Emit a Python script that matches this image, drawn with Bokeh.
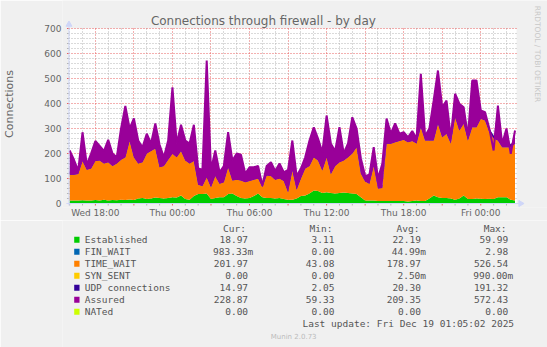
import math
from bokeh.plotting import figure
from bokeh.models import Range1d, FixedTicker, BoxAnnotation
from bokeh.layouts import column
from bokeh.embed import file_html
from bokeh.resources import INLINE
from bokeh.core.properties import value

# ---------------- data ----------------
title_text = "Connections through firewall - by day"
y_label = "Connections"

start_hour = 16.0        # hours counted from Wed 00:00 (first sample Wed 16:00)
step_hours = 1.0 / 3.0   # one sample every 20 minutes

established = [12, 12, 12, 13, 12, 12, 14, 12, 15, 12,
               14, 13, 15, 14, 16, 14, 20, 22, 18, 20,
               24, 22, 20, 22, 25, 24, 32, 18, 15, 30,
               38, 38, 40, 18, 22, 25, 25, 38, 40, 30,
               22, 20, 22, 30, 40, 25, 22, 22, 20, 22,
               18, 15, 15, 20, 30, 32, 40, 52, 50, 42,
               45, 42, 40, 42, 44, 42, 40, 38, 25, 12,
               12, 12, 10, 10, 10, 10, 10, 10, 10, 8,
               10, 12, 10, 10, 20, 32, 25, 22, 22, 20,
               15, 20, 32, 18, 18, 20, 19, 18, 19, 18,
               25, 25, 25, 15, 12]

time_wait = [103, 103, 106, 157, 123, 128, 156, 160, 145, 153,
             136, 147, 160, 171, 234, 171, 140, 143, 182, 190,
             196, 123, 130, 153, 174, 161, 178, 154, 145, 140,
             37, 32, 65, 47, 88, 54, 60, 107, 52, 65,
             70, 65, 68, 65, 60, 40, 90, 88, 75, 78,
             72, 30, 117, 35, 70, 108, 110, 133, 122, 90,
             140, 76, 110, 123, 128, 143, 160, 187, 95, 76,
             67, 138, 50, 52, 229, 229, 235, 240, 245, 237,
             240, 228, 295, 242, 232, 220, 294, 243, 257, 220,
             330, 272, 287, 234, 287, 285, 320, 314, 266, 242,
             227, 200, 200, 210, 227]

udp = [15, 12, 10, 15, 12, 15, 18, 20, 15, 22,
       15, 12, 20, 25, 18, 22, 15, 15, 20, 18,
       22, 15, 12, 20, 30, 18, 25, 20, 18, 25,
       20, 25, 30, 15, 20, 12, 15, 25, 20, 22,
       18, 12, 15, 15, 12, 5, 12, 15, 12, 15,
       10, 12, 20, 10, 12, 15, 20, 25, 20, 15,
       25, 18, 15, 22, 12, 15, 25, 20, 15, 8,
       10, 18, 10, 12, 25, 15, 22, 18, 20, 15,
       20, 15, 40, 12, 18, 30, 45, 25, 30, 15,
       30, 25, 25, 15, 35, 35, 20, 20, 15, 12,
       25, 12, 18, 12, 15]

assured = [212, 175, 132, 285, 155, 200, 250, 230, 210, 255,
           200, 185, 300, 390, 300, 340, 252, 225, 279, 240,
           320, 235, 185, 252, 465, 240, 315, 252, 240, 315,
           140, 135, 572, 135, 212, 125, 150, 285, 172, 200,
           195, 120, 145, 145, 150, 72, 150, 165, 130, 160,
           125, 135, 252, 110, 140, 185, 252, 305, 260, 205,
           352, 239, 210, 305, 200, 240, 345, 300, 180, 110,
           115, 225, 100, 159, 340, 280, 320, 279, 285, 265,
           290, 260, 519, 270, 300, 412, 532, 385, 412, 265,
           439, 399, 385, 270, 492, 492, 372, 365, 300, 212,
           392, 239, 300, 199, 292]

x_label_hours = [18, 24, 30, 36, 42, 48]
x_label_texts = ["Wed 18:00", "Thu 00:00", "Thu 06:00", "Thu 12:00", "Thu 18:00", "Fri 00:00"]
x_major_hours = [18, 21, 24, 27, 30, 33, 36, 39, 42, 45, 48]
x_minor_hours = [16, 17, 19, 20, 22, 23, 25, 26, 28, 29, 31, 32, 34, 35, 37, 38,
                 40, 41, 43, 44, 46, 47, 49, 50]
y_major = [0, 100, 200, 300, 400, 500, 600, 700]
y_minor = [v for v in range(20, 700, 20) if v % 100 != 0]

series_names = ["Established", "FIN_WAIT", "TIME_WAIT", "SYN_SENT",
                "UDP connections", "Assured", "NATed"]
series_colors = ["#00CC00", "#0066B3", "#FF8000", "#FFCC00",
                 "#330099", "#990099", "#CCFF00"]
cur_vals = ["18.97", "983.33m", "201.97", "0.00", "14.97", "228.87", "0.00"]
min_vals = ["3.11", "0.00", "43.08", "0.00", "2.05", "59.33", "0.00"]
avg_vals = ["22.19", "44.99m", "178.97", "2.50m", "20.30", "209.35", "0.00"]
max_vals = ["59.99", "2.98", "526.54", "990.00m", "191.32", "572.43", "0.00"]
last_update = "Last update: Fri Dec 19 01:05:02 2025"
munin_version = "Munin 2.0.73"
rrd_credit = "RRDTOOL / TOBI OETIKER"

# ---------------- derived stacks ----------------
n = len(established)
hours = [start_hour + i * step_hours for i in range(n)]
top_est = list(established)
top_tw = [e + t for e, t in zip(top_est, time_wait)]
top_udp = [t + u for t, u in zip(top_tw, udp)]
top_assured_band = [max(a, t) for a, t in zip(assured, top_tw)]

FONT_COLOR = "#666666"
LEG_COLOR = "#555555"
AXIS_COLOR = "#CFD6F8"
MGRID = "#E86060"
GRID = "#B4B4B4"
BACK = "#F0F0F0"

# pixel <-> data helpers for the chart canvas (12.9 px per hour, 0.25 px per connection)
PX_PER_H = 12.9
X_REF_PX, X_REF_H = 93.0, 18.0
Y_ZERO_PX, PX_PER_UNIT = 203.0, 0.25


def hx(px):
    return X_REF_H + (px - X_REF_PX) / PX_PER_H


def vy(py):
    return (Y_ZERO_PX - py) / PX_PER_UNIT


FL, FR, FT, FB, H1 = 60, 547, 0, 207, 220
PLOT_L, PLOT_R = hx(66.5), hx(516)
Y_TOP = 700

# ---------------- main chart ----------------
p = figure(width=547, height=H1,
           x_range=Range1d(hx(FL), hx(FR)), y_range=Range1d(vy(FB), vy(FT)),
           output_backend="svg", toolbar_location=None,
           min_border_left=FL, min_border_right=547 - FR, min_border_top=FT,
           min_border_bottom=H1 - FB)
p.background_fill_color = BACK
p.border_fill_color = BACK
p.outline_line_color = None

p.add_layout(BoxAnnotation(left=PLOT_L, right=PLOT_R, bottom=0, top=Y_TOP,
                           fill_color="#FFFFFF", fill_alpha=1.0, line_color=None,
                           level="image"))

p.xgrid.ticker = FixedTicker(ticks=x_major_hours, minor_ticks=x_minor_hours)
p.ygrid.ticker = FixedTicker(ticks=y_major[1:], minor_ticks=y_minor)
p.xgrid.cross_bounds = (0, Y_TOP)
p.ygrid.cross_bounds = (PLOT_L, PLOT_R)
for g in (p.xgrid, p.ygrid):
    g.grid_line_color = MGRID
    g.grid_line_dash = "1 2"
    g.grid_line_width = 1
    g.minor_grid_line_color = GRID
    g.minor_grid_line_dash = "1 2"
    g.minor_grid_line_width = 1

p.xaxis.ticker = FixedTicker(ticks=x_label_hours)
p.xaxis.major_label_overrides = {h: t for h, t in zip(x_label_hours, x_label_texts)}
p.yaxis.ticker = FixedTicker(ticks=y_major)
for ax in (p.xaxis, p.yaxis):
    ax.axis_line_color = None
    ax.major_tick_line_color = None
    ax.minor_tick_line_color = None
    ax.major_tick_out = 0
    ax.minor_tick_out = 0
    ax.major_label_text_font = "DejaVu Sans"
    ax.major_label_text_font_size = "9px"
    ax.major_label_text_color = FONT_COLOR
p.xaxis.major_label_standoff = 0
p.yaxis.major_label_standoff = 1
p.yaxis.axis_label = y_label
p.yaxis.axis_label_text_font = "DejaVu Sans"
p.yaxis.axis_label_text_font_size = "11px"
p.yaxis.axis_label_text_font_style = "normal"
p.yaxis.axis_label_text_color = FONT_COLOR
p.yaxis.axis_label_standoff = 25

# stacked areas + assured line
p.varea(x=hours, y1=0, y2=top_est, fill_color="#00CC00")
p.varea(x=hours, y1=top_est, y2=top_tw, fill_color="#FF8000")
p.varea(x=hours, y1=top_tw, y2=top_udp, fill_color="#330099")
p.varea(x=hours, y1=top_tw, y2=top_assured_band, fill_color="#990099")
p.line(x=hours, y=assured, line_color="#990099", line_width=2)

# tick marks just outside the axes (2 px)
tick2h = 2 / PX_PER_H
tick2v = 2 / PX_PER_UNIT
p.segment(x0=x_major_hours, y0=[0] * len(x_major_hours), x1=x_major_hours,
          y1=[-tick2v] * len(x_major_hours), line_color=MGRID, line_width=1)
p.segment(x0=x_minor_hours, y0=[0] * len(x_minor_hours), x1=x_minor_hours,
          y1=[-tick2v] * len(x_minor_hours), line_color=GRID, line_width=1)
p.segment(x0=[PLOT_L] * len(y_major), y0=y_major, x1=[PLOT_L - tick2h] * len(y_major),
          y1=y_major, line_color=MGRID, line_width=1)
p.segment(x0=[PLOT_L] * len(y_minor), y0=y_minor, x1=[PLOT_L - tick2h] * len(y_minor),
          y1=y_minor, line_color=GRID, line_width=1)

# axes with arrows
p.segment(x0=[PLOT_L, hx(64)], y0=[-tick2v, 0], x1=[PLOT_L, hx(519)], y1=[vy(26), 0],
          line_color=AXIS_COLOR, line_width=1)
p.scatter(x=[PLOT_L], y=[vy(24)], marker="triangle", size=6,
          fill_color=AXIS_COLOR, line_color=AXIS_COLOR)
p.scatter(x=[hx(520)], y=[0], marker="triangle", size=6, angle=-math.pi / 2,
          fill_color=AXIS_COLOR, line_color=AXIS_COLOR)

# title and credit
p.text(x=[hx(261.7)], y=[vy(20)], text=[title_text], text_font=value("DejaVu Sans"),
       text_font_size=value("12px"), text_align="center", text_baseline="middle",
       text_color=FONT_COLOR)
p.text(x=[hx(537)], y=[vy(53.5)], text=[rrd_credit], angle=-math.pi / 2,
       text_font=value("DejaVu Sans"), text_font_size=value("7.5px"),
       text_align="center", text_baseline="middle", text_color="#C8C8C8")

# ---------------- legend panel ----------------
q = figure(width=547, height=347 - H1, x_range=Range1d(0, 547), y_range=Range1d(347, H1),
           output_backend="svg", toolbar_location=None, min_border=0,
           x_axis_location=None, y_axis_location=None)
q.grid.visible = False
q.outline_line_color = None
q.background_fill_color = BACK
q.border_fill_color = BACK

MONO = value("DejaVu Sans Mono")
FS = value("9.5px")
CW = 5.71
row_y = [239.3 + 12 * i for i in range(len(series_names))]

q.rect(x=[16.2] * len(row_y), y=row_y, width=6, height=6,
       fill_color=series_colors, line_color=None)
q.text(x=[25] * len(row_y), y=row_y, text=series_names, text_font=MONO, text_font_size=FS,
       text_align="left", text_baseline="middle", text_color=LEG_COLOR)

header_x = [181, 278.7, 376.7, 475]
q.text(x=header_x, y=[227.7] * 4, text=["Cur:", "Min:", "Avg:", "Max:"], text_font=MONO,
       text_font_size=FS, text_align="left", text_baseline="middle", text_color=LEG_COLOR)

col_right = [209.3, 306.7, 404.3, 502.7]
vx, vyy, vt = [], [], []
for cr, vals in zip(col_right, [cur_vals, min_vals, avg_vals, max_vals]):
    for yy, s in zip(row_y, vals):
        vx.append(cr + (CW if s.endswith("m") else 0))
        vyy.append(yy)
        vt.append(s)
q.text(x=vx, y=vyy, text=vt, text_font=MONO, text_font_size=FS,
       text_align="right", text_baseline="middle", text_color=LEG_COLOR)

q.text(x=[509.3], y=[323.3], text=[last_update], text_font=MONO, text_font_size=FS,
       text_align="right", text_baseline="middle", text_color=LEG_COLOR)
q.text(x=[260.7], y=[336], text=[munin_version], text_font=value("DejaVu Sans"),
       text_font_size=value("7px"), text_align="center", text_baseline="middle",
       text_color="#BBBBBB")

layout = column(p, q, spacing=0)
open("out.html", "w").write(file_html(layout, INLINE))
